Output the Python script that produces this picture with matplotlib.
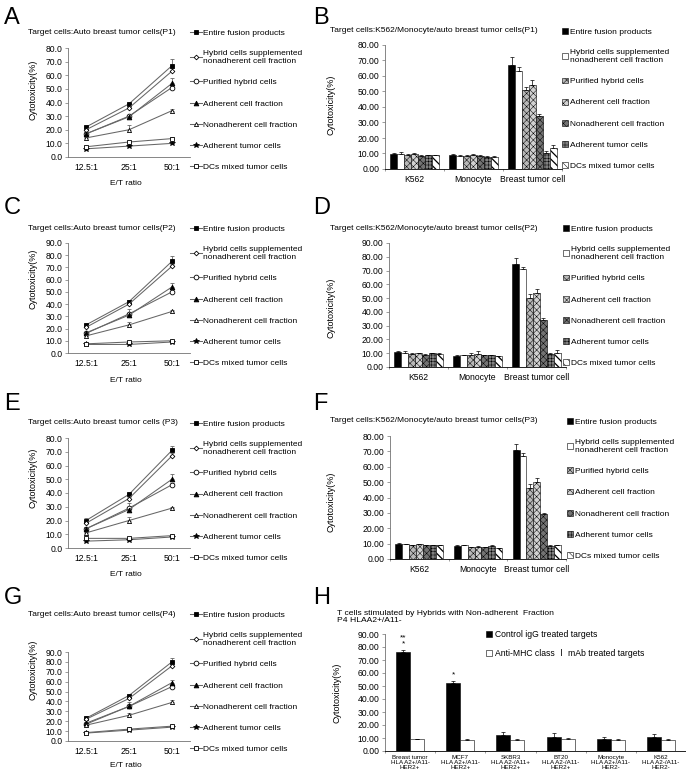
"""Cytotoxicity of T cells stimulated by fusion products: line and bar panels A-H."""
import matplotlib
matplotlib.use("Agg")
import matplotlib.pyplot as plt
from matplotlib.lines import Line2D
from matplotlib.patches import Patch
from matplotlib.ticker import FormatStrFormatter, FixedLocator
import numpy as np

plt.rcParams["font.family"] = ["Liberation Sans", "Noto Sans CJK SC", "DejaVu Sans"]
plt.rcParams["hatch.linewidth"] = 0.35

W, H = 686, 777

# ---------------------------------------------------------------- data
series = ["Entire fusion products",
          "Hybrid cells supplemented\nnonadherent cell fraction",
          "Purified hybrid cells",
          "Adherent cell fraction",
          "Nonadherent cell fraction",
          "Adherent tumor cells",
          "DCs mixed tumor cells"]
et_ratio = ["12.5:1", "25:1", "50:1"]
targets = ["K562", "Monocyte", "Breast tumor cell"]

# line panels: one row per series, values at 12.5:1, 25:1, 50:1
p1_line = [[22, 39, 67], [20, 36, 63], [17, 30, 51], [17, 29.5, 54],
           [14, 20, 34], [6, 8, 10], [7.5, 11, 13.5]]
p1_line_err = [[1, 1, 5], [1, 1, 2], [1, 1, 1], [1, 1, 4],
               [1, 3.5, 1.5], [0.5, 0.5, 0.5], [0.5, 1, 1]]
p2_line = [[23, 42, 75], [21, 40, 71], [16, 32, 50], [16.5, 31, 54],
           [14, 23, 34], [7, 7, 9], [7.5, 9, 10]]
p2_line_err = [[1, 1, 4], [1, 1, 1.5], [1, 1, 1], [1, 5, 3],
               [1, 2, 1.5], [0.5, 0.5, 0.5], [0.5, 0.5, 1]]
p3_line = [[20, 39, 71], [18, 36, 67], [14, 29, 46], [14, 28, 50],
           [11, 20, 29], [5, 6, 8], [7, 7, 9]]
p3_line_err = [[1.5, 1, 3.5], [1, 1, 2], [1, 1, 1], [1, 5, 3.5],
               [1, 2.5, 1], [0.5, 0.5, 0.5], [0.5, 0.5, 0.5]]
p4_line = [[23, 46, 80], [22, 43, 76], [17, 35, 55], [18, 35, 59],
           [16, 26, 39], [8, 11, 14], [8.5, 12, 15]]
p4_line_err = [[1, 1, 4], [1, 1, 2], [1, 1, 1], [1, 4, 3],
               [1, 2.5, 2], [0.5, 0.5, 0.5], [0.5, 0.5, 1]]

# bar panels: one row per series, values for K562, Monocyte, Breast tumor cell
p1_bar = [[9.5, 9, 67], [9.5, 8.5, 63], [9, 8.5, 51], [9.5, 9, 54],
          [8.5, 8.5, 34], [9, 8, 10], [9, 8, 13.5]]
p1_bar_err = [[0.6, 0.5, 5], [1.2, 0.3, 3], [0.4, 0.4, 2], [0.5, 0.5, 3.5],
              [0.3, 0.3, 1.5], [0.3, 0.3, 1.5], [0.3, 0.3, 2]]
p2_bar = [[11, 8, 75], [10.5, 8.5, 71], [9.5, 9, 50], [10, 9.5, 54],
          [9, 8.5, 34], [10, 8.5, 9.5], [9.5, 8, 10.5]]
p2_bar_err = [[0.4, 0.4, 4], [1.2, 0.3, 1.5], [0.5, 0.8, 3], [0.5, 2, 2.5],
              [0.3, 0.3, 1.5], [0.3, 0.3, 0.5], [0.3, 0.3, 1.5]]
p3_bar = [[10, 8.5, 71], [9.5, 9, 67], [9, 7.5, 46], [9.5, 8, 50],
          [9, 7.5, 29], [9, 8.5, 8.5], [9, 7, 9]]
p3_bar_err = [[0.3, 0.3, 3.5], [0.3, 0.3, 2], [0.3, 0.3, 3], [0.3, 0.3, 3],
              [0.3, 0.3, 0.8], [0.3, 0.3, 0.3], [0.3, 0.3, 0.3]]

h_targets = ["Breast tumor\nHLA A2+/A11-\nHER2+", "MCF7\nHLA A2+/A11-\nHER2+",
             "SKBR3\nHLA A2-/A11+\nHER2+", "BT20\nHLA A2-/A11-\nHER2+",
             "Monocyte\nHLA A2+/A11-\nHER2-", "K562\nHLA A2-/A11-\nHER2-"]
h_series = ["Control igG treated targets", "Anti-MHC class \u2160 mAb treated targets"]
h_control = [76, 52, 12, 11, 9, 11]
h_control_err = [2, 2, 3, 2.5, 2, 2]
h_anti = [9, 8.5, 8.5, 9, 8.5, 8.5]
h_anti_err = [0.5, 1, 1, 1, 0.5, 1]
h_stars = ["**\n*", "*", "", "", "", ""]

# ---------------------------------------------------------------- styles
line_markers = [dict(marker="s", mfc="black", ms=3.2),
                dict(marker="D", mfc="white", ms=2.4),
                dict(marker="o", mfc="white", ms=3.4),
                dict(marker="^", mfc="black", ms=3.4),
                dict(marker="^", mfc="white", ms=3.0),
                dict(marker="*", mfc="black", ms=4.0),
                dict(marker="s", mfc="white", ms=3.4)]
bar_styles = [dict(fc="black", hatch=None),
              dict(fc="white", hatch=None),
              dict(fc="0.72", hatch="xxxxx"),
              dict(fc="0.82", hatch="xxxxx"),
              dict(fc="0.45", hatch="xxxxx"),
              dict(fc="0.5", hatch="+++++"),
              dict(fc="white", hatch="\\\\\\\\")]

SMALL = 6.0
TICK = 6.2


def px_axes(fig, left, top, right, bottom):
    return fig.add_axes([left / W, 1 - bottom / H, (right - left) / W, (bottom - top) / H])


def fig_xy(x, y):
    return x / W, 1 - y / H


def style_axes(ax, ymax, fmt):
    for s in ("top", "right"):
        ax.spines[s].set_visible(False)
    ax.spines["left"].set_color("0.45")
    ax.spines["bottom"].set_color("0.45")
    ax.spines["left"].set_linewidth(0.6)
    ax.spines["bottom"].set_linewidth(0.6)
    ax.set_ylim(0, ymax)
    ax.set_yticks(np.arange(0, ymax + 1, 10))
    ax.yaxis.set_major_formatter(FormatStrFormatter(fmt))
    ax.tick_params(axis="y", labelsize=TICK, length=2, width=0.5, color="0.45", pad=2)
    ax.tick_params(axis="x", labelsize=TICK, length=0, pad=4)


def line_panel(fig, rect, data, err, ymax, title, title_xy, leg_xy, ylab_xy, xlab_xy):
    ax = px_axes(fig, *rect)
    x = np.arange(len(et_ratio))
    for vals, e, mk in zip(data, err, line_markers):
        ax.errorbar(x, vals, yerr=[np.zeros(len(e)), e], color="0.4", lw=0.75,
                    marker=mk["marker"], mfc=mk["mfc"], ms=mk["ms"], mec="black",
                    mew=0.6, ecolor="0.4", elinewidth=0.6, capsize=1.5, capthick=0.6)
    ax.set_xlim(-0.42, 2.42)
    ax.set_xticks(x, et_ratio)
    style_axes(ax, ymax, "%.1f")
    ax.set_ylabel("Cytotoxicity(%)", fontsize=TICK + 0.3)
    ax.yaxis.set_label_coords(*fig_xy(*ylab_xy), transform=fig.transFigure)
    ax.set_xlabel("E/T ratio", fontsize=SMALL)
    ax.xaxis.set_label_coords(*fig_xy(*xlab_xy), transform=fig.transFigure)
    fig.text(*fig_xy(*title_xy), title, fontsize=SMALL, va="center")
    handles = [Line2D([0], [0], color="0.4", lw=0.75, marker=mk["marker"], mfc=mk["mfc"],
                      ms=mk["ms"], mec="black", mew=0.6) for mk in line_markers]
    fig.legend(handles, series, loc="upper left", bbox_to_anchor=fig_xy(*leg_xy),
               frameon=False, fontsize=SMALL, borderpad=0, borderaxespad=0,
               handlelength=1.4, handletextpad=0.2, labelspacing=1.6)
    return ax


def add_bars(ax, x, vals, e, width, style):
    bars = ax.bar(x, vals, width, facecolor=style["fc"], edgecolor="black",
                  linewidth=0.4, hatch=style["hatch"])
    if style["hatch"] and style["hatch"].startswith("\\"):
        for b in bars:
            if hasattr(b, "set_hatch_linewidth"):
                b.set_hatch_linewidth(0.9)
    ax.errorbar(x, vals, yerr=[np.zeros(len(e)), e], fmt="none", ecolor="black",
                elinewidth=0.5, capsize=1.3, capthick=0.5)
    return bars


def bar_panel(fig, rect, data, err, ymax, title, title_xy, leg_xy, ylab_xy):
    ax = px_axes(fig, *rect)
    x = np.arange(len(targets))
    n = len(series)
    w = 0.117
    for i, (vals, e, st) in enumerate(zip(data, err, bar_styles)):
        add_bars(ax, x + (i - (n - 1) / 2) * w, vals, e, w, st)
    ax.set_xlim(-0.5, len(targets) - 0.5)
    ax.set_xticks(x, targets)
    ax.xaxis.set_minor_locator(FixedLocator(np.arange(len(targets) + 1) - 0.5))
    ax.tick_params(axis="x", which="minor", length=1.5, width=0.5, color="0.45")
    style_axes(ax, ymax, "%.2f")
    ax.spines["bottom"].set_color("black")
    ax.set_ylabel("Cytotoxicity(%)", fontsize=TICK + 0.3)
    ax.yaxis.set_label_coords(*fig_xy(*ylab_xy), transform=fig.transFigure)
    fig.text(*fig_xy(*title_xy), title, fontsize=SMALL, va="center")
    handles = [Patch(facecolor=st["fc"], edgecolor="black", linewidth=0.4,
                     hatch=st["hatch"]) for st in bar_styles]
    fig.legend(handles, series, loc="upper left", bbox_to_anchor=fig_xy(*leg_xy),
               frameon=False, fontsize=SMALL, borderpad=0, borderaxespad=0,
               handlelength=0.7, handleheight=0.7, handletextpad=0.3, labelspacing=1.6)
    return ax


fig = plt.figure(figsize=(W / 100, H / 100), dpi=100)

line_title = "Target cells:Auto breast tumor cells"
bar_title = "Target cells:K562/Monocyte/auto breast tumor cells"

line_panel(fig, (68, 48, 190, 157), p1_line, p1_line_err, 80, line_title + "(P1)",
           (28, 32), (190, 29), (37, 90), (126, 180))
line_panel(fig, (68, 243, 190, 353), p2_line, p2_line_err, 90, line_title + "(P2)",
           (28, 228), (190, 225), (37, 279), (126, 377))
line_panel(fig, (68, 438, 190, 548), p3_line, p3_line_err, 80, line_title + " (P3)",
           (28, 423), (190, 420), (37, 478), (126, 571))
line_panel(fig, (68, 652, 190, 741), p4_line, p4_line_err, 90, line_title + "(P4)",
           (28, 614), (190, 611), (37, 670), (126, 762))

bar_panel(fig, (385, 45, 562, 169), p1_bar, p1_bar_err, 80, bar_title + "(P1)",
          (330, 31), (562, 28), (336, 105))
bar_panel(fig, (389, 243, 566, 367), p2_bar, p2_bar_err, 90, bar_title + "(P2)",
          (330, 228), (563, 225), (336, 308))
bar_panel(fig, (390, 436, 566, 559), p3_bar, p3_bar_err, 80, bar_title + "(P3)",
          (330, 421), (567, 418), (336, 502))

# panel H
axh = px_axes(fig, 385, 634, 686, 751)
xh = np.arange(len(h_targets))
wh = 0.28
add_bars(axh, xh - wh / 2, h_control, h_control_err, wh, bar_styles[0])
add_bars(axh, xh + wh / 2, h_anti, h_anti_err, wh, bar_styles[1])
for xi, v, e, s in zip(xh, h_control, h_control_err, h_stars):
    if s:
        axh.text(xi - wh / 2, v + e + 1.5, s, ha="center", va="bottom",
                 fontsize=SMALL, linespacing=0.9)
axh.set_xlim(-0.5, len(h_targets) - 0.5)
axh.set_xticks(xh, h_targets)
axh.xaxis.set_minor_locator(FixedLocator(np.arange(len(h_targets) + 1) - 0.5))
axh.tick_params(axis="x", which="minor", length=1.5, width=0.5, color="0.45")
style_axes(axh, 90, "%.2f")
axh.spines["bottom"].set_color("black")
for lab in axh.get_xticklabels():
    lab.set_fontsize(4.5)
    lab.set_linespacing(0.95)
axh.tick_params(axis="x", pad=3)
axh.set_ylabel("Cytotoxicity(%)", fontsize=TICK + 0.3)
axh.yaxis.set_label_coords(*fig_xy(342, 693), transform=fig.transFigure)
fig.text(*fig_xy(337, 617), "T cells stimulated by Hybrids with Non-adherent  Fraction\n"
         "P4 HLAA2+/A11-", fontsize=SMALL + 0.1, va="center", linespacing=1.0)
fig.legend([Patch(facecolor="black", edgecolor="black", linewidth=0.4),
            Patch(facecolor="white", edgecolor="black", linewidth=0.4)], h_series,
           loc="upper left", bbox_to_anchor=fig_xy(486, 630), frameon=False,
           fontsize=TICK, borderpad=0, borderaxespad=0, handlelength=0.7,
           handleheight=0.7, handletextpad=0.3, labelspacing=1.2)

# panel letters
for letter, (lx, ly) in zip("ABCDEFGH", [(4, 24), (313, 24), (4, 214), (313, 214),
                                          (4, 410), (313, 410), (4, 604), (313, 604)]):
    fig.text(*fig_xy(lx, ly), letter, fontsize=17, va="baseline")

fig.savefig("out.png", dpi=100)
